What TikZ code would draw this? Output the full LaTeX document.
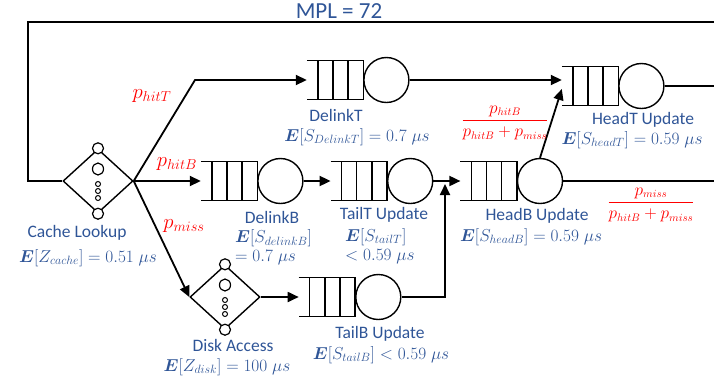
\documentclass[tikz,border=0pt]{standalone}
\usepackage{amsmath}
\usepackage{fontspec}
\setmainfont{Carlito}
\usepackage{tikz}
\usetikzlibrary{arrows.meta,positioning,calc,shapes.geometric}
\definecolor{navy}{HTML}{2F5597}
\definecolor{hot}{HTML}{FF0000}

\begin{document}
\begin{tikzpicture}[
  x=1pt,y=-1pt,
  queue/.style={inner sep=0pt,minimum width=56pt,minimum height=39pt},
  server/.style={circle,draw,line width=1.4pt,inner sep=0pt,minimum size=45pt},
  delay/.style={diamond,draw,line width=1.4pt,inner sep=0pt,
                minimum width=70pt,minimum height=64pt},
  arr/.style={-{Triangle[length=11pt,width=10pt]},line width=1.8pt},
  wire/.style={line width=1.8pt},
  lbl/.style={text=navy,inner sep=0pt,font=\fontsize{17.5}{19}\selectfont},
  prob/.style={text=hot,inner sep=0pt,font=\fontsize{22}{24}\selectfont}
]
\useasboundingbox (0,0) rectangle (714,384);

% stations
\node[delay] (cache) at (98,181) {};
\node[queue] (dlbq) at (229,181) {};
\node[server,right=0pt of dlbq] (dlbs) {};
\node[queue,right=27pt of dlbs] (ttuq) {};
\node[server,right=0pt of ttuq] (ttus) {};
\node[queue,right=27pt of ttus] (hbuq) {};
\node[server,right=0pt of hbuq] (hbus) {};
\node[queue] (dltq) at (335,80) {};
\node[server,right=0pt of dltq] (dlts) {};
\node[queue] (htuq) at (590,86) {};
\node[server,right=0pt of htuq] (htus) {};
\node[delay] (disk) at (225,297) {};
\node[queue,right=38pt of disk] (tbuq) {};
\node[server,right=0pt of tbuq] (tbus) {};

\foreach \q in {dltq,dlbq,ttuq,hbuq,htuq,tbuq}{
  \draw[line width=1.4pt] (\q.north west) -- (\q.north east) -- (\q.south east) -- (\q.south west);
  \foreach \f in {0.196,0.464,0.732}
    \draw[line width=1.4pt] ($(\q.north west)!\f!(\q.north east)$) -- ($(\q.south west)!\f!(\q.south east)$);
}

\foreach \d in {cache,disk}{
  \draw[fill=white,line width=1.2pt] (\d.north) circle (5.5pt) (\d.south) circle (5.5pt);
  \draw[line width=1.2pt] ($(\d.center)+(0,-12)$) ellipse (5.5pt and 6pt);
  \foreach \k in {3,10,17}
    \draw[line width=1pt] ($(\d.center)+(0,\k)$) circle (2.5pt);
}

% connectors
\coordinate (bendT) at (195,80);
\coordinate (merge) at (445,181);
\coordinate (loopL) at (28,22);
\coordinate (loopR) at (714,22);
\coordinate (htout) at (714,86);
\coordinate (hbout) at (714,181);
\draw[wire] (loopR) -- (loopL) |- (cache.west);
\draw[arr] (cache.east) -- (bendT) -- (dltq.west);
\draw[arr] (cache.east) -- (dlbq.west);
\draw[arr] (cache.east) -- (disk.west);
\draw[arr] (dlbs.east) -- (ttuq.west);
\draw[arr] (ttus.east) -- (hbuq.west);
\draw[arr] (disk.east) -- (tbuq.west);
\draw[arr,shorten >=3pt] (tbus.east) -| (merge);
\draw[arr] (dlts.east) -- (dlts.east -| htuq.west);
\draw[arr] (hbus.north) -- ([yshift=-3pt]htuq.west);
\draw[wire] (htus.east) -- (htout);
\draw[wire] (hbus.east) -- (hbout);

% labels
\node[lbl,font=\fontsize{23}{25}\selectfont] (mpl) at (339,11) {MPL = 72};
\node[prob] (phitt) at (152,96) {$p_{hitT}$};
\node[prob] (phitb) at (177,164) {$p_{hitB}$};
\node[prob] (pmiss) at (184,226) {$p_{miss}$};
\node[prob,font=\fontsize{16}{18}\selectfont] (fhit) at (505,123)
  {$\dfrac{p_{hitB}}{p_{hitB}+p_{miss}}$};
\node[prob,font=\fontsize{16}{18}\selectfont] (fmiss) at (651,205)
  {$\dfrac{p_{miss}}{p_{hitB}+p_{miss}}$};

\node[lbl] (cachename) at (77,233) {Cache Lookup};
\node[lbl] (cachemean) at (88,258) {$\boldsymbol{E}[Z_{cache}] = 0.51\;\mu s$};
\node[lbl] (dltname) at (336,115) {DelinkT};
\node[lbl] (dltmean) at (357,137) {$\boldsymbol{E}[S_{DelinkT}] = 0.7\;\mu s$};
\node[lbl] (dlbname) at (272,217) {DelinkB};
\node[lbl,align=left,anchor=west] (dlbmean) at (235,247.5)
  {$\boldsymbol{E}[S_{delinkB}]$\\$= 0.7\;\mu s$};
\node[lbl] (ttuname) at (384,215) {TailT Update};
\node[lbl,align=left,anchor=west] (ttumean) at (345,246)
  {$\boldsymbol{E}[S_{tailT}]$\\$< 0.59\;\mu s$};
\node[lbl] (hbuname) at (537,216) {HeadB Update};
\node[lbl] (hbumean) at (531,237) {$\boldsymbol{E}[S_{headB}] = 0.59\;\mu s$};
\node[lbl] (htuname) at (643,120) {HeadT Update};
\node[lbl] (htumean) at (632,140) {$\boldsymbol{E}[S_{headT}] = 0.59\;\mu s$};
\node[lbl] (tbuname) at (380,334) {TailB Update};
\node[lbl] (tbumean) at (381,355) {$\boldsymbol{E}[S_{tailB}] < 0.59\;\mu s$};
\node[lbl] (diskname) at (233,345) {Disk Access};
\node[lbl] (diskmean) at (227,367) {$\boldsymbol{E}[Z_{disk}] = 100\;\mu s$};
\end{tikzpicture}
\end{document}
